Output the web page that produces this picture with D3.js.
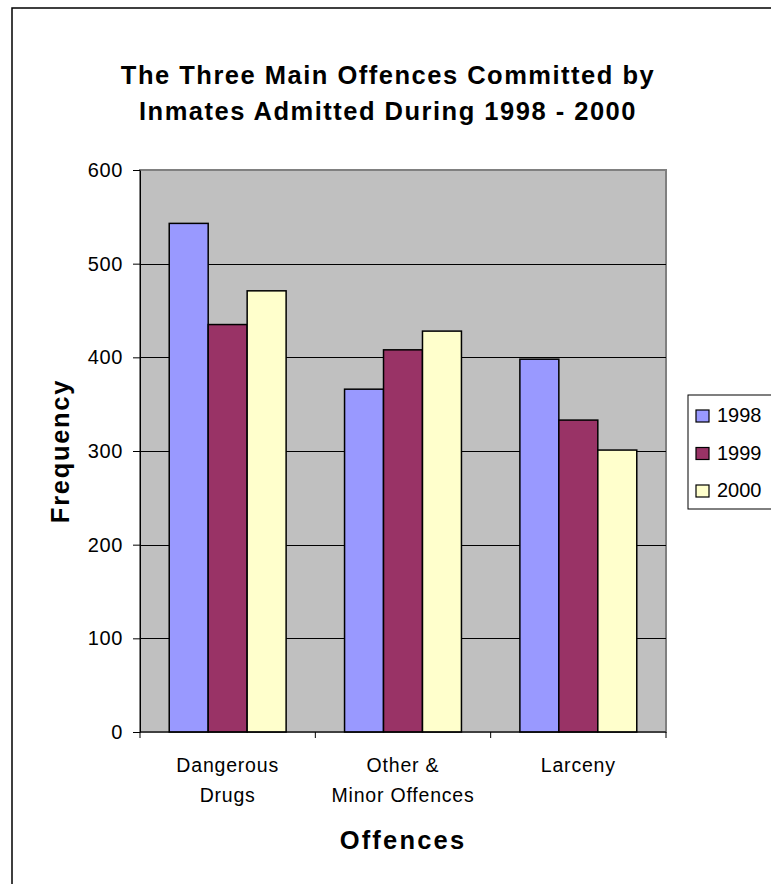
<!DOCTYPE html>
<html>
<head>
<meta charset="utf-8">
<script src="https://cdn.jsdelivr.net/npm/d3@7"></script>
<style>
  body { margin: 0; background: #fff; }
  svg { display: block; font-family: "Liberation Sans", Arial, sans-serif; }
</style>
</head>
<body>
<svg width="771" height="884"></svg>
<script>
const categories = [["Dangerous", "Drugs"], ["Other &", "Minor Offences"], ["Larceny"]];
const years = ["1998", "1999", "2000"];
const values1998 = [543, 366, 398];
const values1999 = [435, 408, 333];
const values2000 = [471, 428, 301];
const yTicks = [0, 100, 200, 300, 400, 500, 600];
const colors = ["#9999FF", "#993366", "#FFFFCC"];

const seriesValues = [values1998, values1999, values2000];
const catKeys = categories.map(c => c.join(" "));

const margin = { top: 170, left: 140, right: 105, bottom: 152 };
const width = 771;
const height = 884;
const plotW = width - margin.left - margin.right;
const plotH = height - margin.top - margin.bottom;

const svg = d3.select("svg");

// outer chart border (only left and top visible)
svg.append("rect")
  .attr("x", 12).attr("y", 8)
  .attr("width", 800).attr("height", 900)
  .attr("fill", "none").attr("stroke", "#000").attr("stroke-width", 1.5);

// scales
const x0 = d3.scaleBand().domain(catKeys).range([margin.left, margin.left + plotW])
  .paddingInner(0.3333).paddingOuter(0.1667);
const xCat = d3.scaleBand().domain(catKeys).range([margin.left, margin.left + plotW]);
const x1 = d3.scaleBand().domain(years).range([0, x0.bandwidth()]);
const y = d3.scaleLinear().domain([0, 600]).range([margin.top + plotH, margin.top]);

// plot background
svg.append("rect")
  .attr("x", margin.left).attr("y", margin.top)
  .attr("width", plotW).attr("height", plotH)
  .attr("fill", "#C0C0C0").attr("stroke", "#808080").attr("stroke-width", 2);

// gridlines
svg.append("g").selectAll("line")
  .data(yTicks.filter(d => d > 0 && d < 600))
  .enter().append("line")
  .attr("x1", margin.left).attr("x2", margin.left + plotW)
  .attr("y1", d => Math.round(y(d)) + 0.5).attr("y2", d => Math.round(y(d)) + 0.5)
  .attr("stroke", "#000").attr("stroke-width", 1);

// bars
const groups = svg.append("g").selectAll("g")
  .data(catKeys)
  .enter().append("g")
  .attr("transform", d => `translate(${x0(d)},0)`);

groups.selectAll("rect")
  .data((d, i) => years.map((yr, j) => ({ yr, v: seriesValues[j][i], c: colors[j] })))
  .enter().append("rect")
  .attr("x", d => x1(d.yr))
  .attr("y", d => y(d.v))
  .attr("width", x1.bandwidth())
  .attr("height", d => y(0) - y(d.v))
  .attr("fill", d => d.c)
  .attr("stroke", "#000").attr("stroke-width", 1.5);

// y axis
const yAxis = d3.axisLeft(y).tickValues(yTicks).tickSize(7).tickPadding(10).tickSizeOuter(0);
const gy = svg.append("g").attr("transform", `translate(${margin.left},0)`).call(yAxis);
gy.attr("font-size", null).attr("font-family", null);
gy.selectAll("text").attr("font-size", 20).attr("fill", "#000")
  .attr("letter-spacing", 0.6);
gy.selectAll("line").attr("stroke", "#000");
gy.select(".domain").attr("stroke", "#000");

// x axis
const gx = svg.append("g").attr("transform", `translate(0,${margin.top + plotH})`);
gx.append("line").attr("x1", margin.left).attr("x2", margin.left + plotW)
  .attr("stroke", "#000");
gx.selectAll("line.tick")
  .data(catKeys.map(k => xCat(k)).concat([margin.left + plotW]))
  .enter().append("line").attr("class", "tick")
  .attr("x1", d => d).attr("x2", d => d).attr("y1", 0).attr("y2", 6)
  .attr("stroke", "#000");
const labels = gx.selectAll("text.cat")
  .data(categories)
  .enter().append("text").attr("class", "cat")
  .attr("text-anchor", "middle")
  .attr("font-size", 19.5)
  .attr("letter-spacing", 0.8)
  .attr("x", (d, i) => xCat(catKeys[i]) + xCat.bandwidth() / 2);
labels.selectAll("tspan")
  .data(d => d)
  .enter().append("tspan")
  .attr("x", function() { return d3.select(this.parentNode).attr("x"); })
  .attr("y", (d, i) => 40 + i * 30)
  .text(d => d);

// titles
svg.append("text")
  .attr("x", 388).attr("y", 84).attr("text-anchor", "middle")
  .attr("font-size", 25.5).attr("font-weight", "bold").attr("letter-spacing", 1.5)
  .text("The Three Main Offences Committed by");
svg.append("text")
  .attr("x", 388).attr("y", 120).attr("text-anchor", "middle")
  .attr("font-size", 25.5).attr("font-weight", "bold").attr("letter-spacing", 1.5)
  .text("Inmates Admitted During 1998 - 2000");

svg.append("text")
  .attr("x", margin.left + plotW / 2).attr("y", 849).attr("text-anchor", "middle")
  .attr("font-size", 25.5).attr("font-weight", "bold").attr("letter-spacing", 2.2)
  .text("Offences");

svg.append("text")
  .attr("transform", `translate(69,${margin.top + plotH / 2}) rotate(-90)`)
  .attr("text-anchor", "middle")
  .attr("font-size", 25.5).attr("font-weight", "bold").attr("letter-spacing", 1.7)
  .text("Frequency");

// legend
const legend = svg.append("g").attr("transform", "translate(688,395)");
legend.append("rect")
  .attr("width", 100).attr("height", 114)
  .attr("fill", "#fff").attr("stroke", "#000").attr("stroke-width", 1);
const items = legend.selectAll("g.item")
  .data(years)
  .enter().append("g").attr("class", "item")
  .attr("transform", (d, i) => `translate(8,${27 + i * 37.5})`);
items.append("rect")
  .attr("x", 0).attr("y", -12).attr("width", 13).attr("height", 12)
  .attr("fill", (d, i) => colors[i]).attr("stroke", "#000").attr("stroke-width", 1.2);
items.append("text")
  .attr("x", 21).attr("y", 0).attr("font-size", 20)
  .text(d => d);
</script>
</body>
</html>
